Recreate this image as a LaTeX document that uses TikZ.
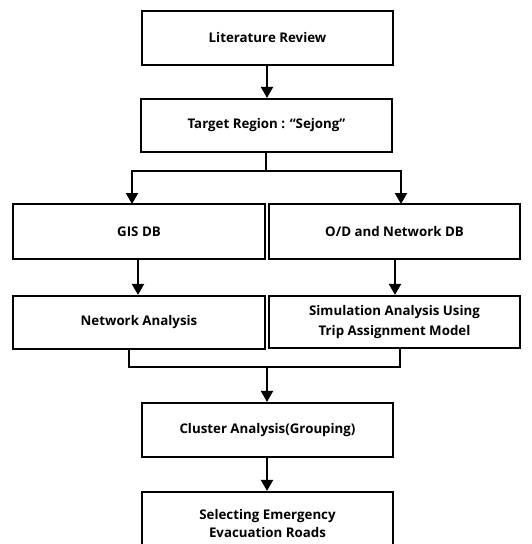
\documentclass[tikz,border=0pt]{standalone}
\usepackage{fontspec}
\setmainfont{Open Sans}
\usetikzlibrary{arrows.meta}
\begin{document}
\begin{tikzpicture}[x=1pt,y=-1pt,
  box/.style={draw,line width=2.2pt,minimum height=0pt,inner sep=0pt,font=\bfseries\fontsize{13.3}{19.5}\selectfont,align=center},
  conn/.style={line width=2.2pt},
  arr/.style={conn,-{Triangle[length=11pt,width=12pt]}}]
\useasboundingbox (0,0) rectangle (531,544);
\node[box,minimum width=251pt,minimum height=54pt] (lit) at (267.5,38) {Literature Review};
\node[box,minimum width=251pt,minimum height=53pt] (tgt) at (266.5,125.5) {Target Region : “Sejong”};
\node[box,minimum width=252pt,minimum height=55pt] (gis) at (139,231.5) {GIS DB};
\node[box,minimum width=251pt,minimum height=55pt] (od) at (394.5,231.5) {O/D and Network DB};
\node[box,minimum width=252pt,minimum height=53pt] (na) at (139,322.5) {Network Analysis};
\node[box,minimum width=251pt,minimum height=52pt] (sim) at (394.5,322) {Simulation Analysis Using\\Trip Assignment Model};
\node[box,minimum width=251pt,minimum height=54pt] (cl) at (267.5,430) {Cluster Analysis(Grouping)};
\node[box,minimum width=251pt,minimum height=58pt,text depth=0pt] (sel) at (267.5,521) {\raisebox{8pt}{\begin{tabular}{@{}c@{}}Selecting Emergency\\[-1pt]Evacuation Roads\end{tabular}}};
\coordinate (s1) at (266,171);
\coordinate (m1) at (267,367);
\draw[arr] (lit.south -| 267,0) -- (tgt.north -| 267,0);
\draw[conn] (tgt.south -| s1) -- (s1);
\draw[arr] (s1) -| (132,204);
\draw[arr] (s1) -| (401,204);
\draw[arr] (gis.south -| 138,0) -- (na.north -| 138,0);
\draw[arr] (od.south -| 395,0) -- (sim.north -| 395,0);
\draw[conn] (na.south -| 129,0) |- (m1);
\draw[conn] (sim.south -| 400,0) |- (m1);
\draw[arr] (m1) -- (cl.north -| m1);
\draw[arr] (cl.south -| 267,0) -- (sel.north -| 267,0);
\end{tikzpicture}
\end{document}
